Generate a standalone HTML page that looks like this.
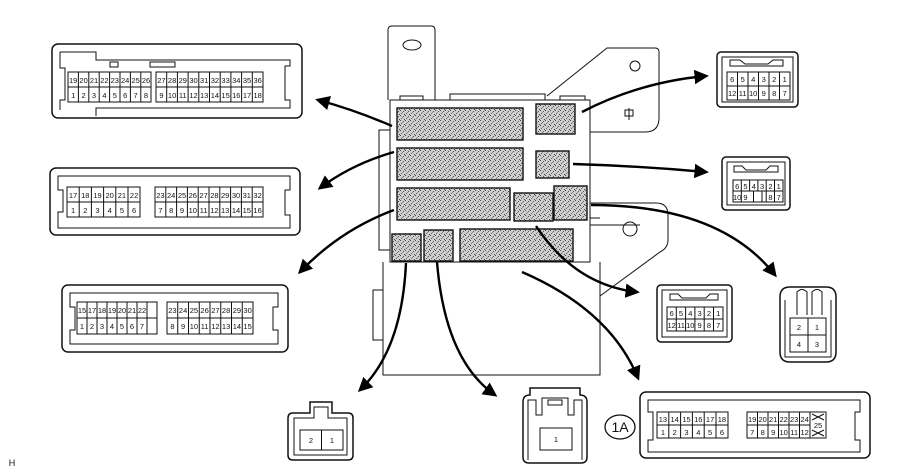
<!DOCTYPE html>
<html><head><meta charset="utf-8"><style>
html,body{margin:0;padding:0;background:#fff;width:909px;height:475px;overflow:hidden}
svg text{font-family:"Liberation Sans",sans-serif;font-size:7.5px;text-anchor:middle;fill:#111}
</style></head><body>
<svg width="909" height="475" viewBox="0 0 909 475" xmlns="http://www.w3.org/2000/svg">
<defs>
<marker id="ah" viewBox="0 0 10 10" refX="8" refY="5" markerWidth="6" markerHeight="6" orient="auto-start-reverse" markerUnits="strokeWidth"><path d="M0,0 L10,5 L0,10 z" fill="#000"/></marker>
<pattern id="dots" width="5" height="5" patternUnits="userSpaceOnUse">
<rect width="5" height="5" fill="#cfcfcf"/>
<rect x="0" y="0" width="1" height="1" fill="#444"/><rect x="3" y="1" width="1" height="1" fill="#555"/>
<rect x="1" y="3" width="1" height="1" fill="#666"/><rect x="4" y="4" width="1" height="1" fill="#444"/>
<rect x="2" y="2" width="1" height="1" fill="#888"/>
</pattern>
</defs>
<g fill="none" stroke="#111" stroke-width="1">
<path d="M388,100 V30 Q388,26 392,26 H431 Q435,26 435,30 V100"/>
<ellipse cx="412" cy="45" rx="9" ry="5"/>
<path d="M547,96 L607,48 H655 Q659,48 659,52 V118 Q659,132 645,132 H590"/>
<circle cx="635" cy="66" r="5"/>
<path d="M629,108 v12 M625,110 h8 v6 h-8z"/>
<path d="M590,203 H656 Q668,203 668,215 V240 Q668,248 660,252 L600,296"/>
<circle cx="630" cy="229" r="7"/>
<rect x="390" y="100" width="200" height="162"/>
<path d="M390,130 H379 V250 H390"/>
<path d="M383,262 V375 H600 V262"/>
<path d="M383,290 H373 V340 H383"/>
<path d="M400,100 V96 H423 V100 M450,100 V94 H545 V100 M560,100 V96 H585 V100"/>
<path d="M590,225 H640 M590,218 H600"/>
</g>
<g stroke="#111" stroke-width="1.4" fill="url(#dots)">
<rect x="397" y="108" width="126" height="32"/><rect x="536" y="104" width="39" height="30"/>
<rect x="397" y="148" width="126" height="32"/><rect x="536" y="151" width="33" height="27"/>
<rect x="397" y="188" width="113" height="32"/><rect x="514" y="193" width="39" height="28"/>
<rect x="554" y="186" width="33" height="34"/>
<rect x="392" y="234" width="29" height="27"/><rect x="424" y="230" width="29" height="31"/>
<rect x="460" y="229" width="113" height="32"/>
</g>
<g fill="none" stroke="#000" stroke-width="2.4" marker-end="url(#ah)">
<path d="M392,126 Q355,110 318,100"/>
<path d="M394,152 Q352,164 320,188"/>
<path d="M394,210 Q340,230 300,272"/>
<path d="M406,263 Q402,350 360,390"/>
<path d="M437,262 Q445,360 495,395"/>
<path d="M522,272 Q610,310 638,378"/>
<path d="M536,226 Q575,285 637,292"/>
<path d="M591,205 Q720,205 775,275"/>
<path d="M582,112 Q640,82 706,76"/>
<path d="M573,164 Q640,166 706,172"/>
</g>
<g fill="none" stroke="#111">
<rect x="52" y="44" width="250" height="74" rx="6" stroke-width="1.5"/>
<path d="M60,52 H96 V60 H290 V66 H285 V100 H290 V108 H96 V116 M60,52 V68 H65 V100 H60 V110"/>
<rect x="68" y="72" width="83" height="30"/><rect x="156" y="72" width="107" height="30"/>
<path d="M68,87 H151 M156,87 H263"/>
<path d="M78.4,72v30M88.8,72v30M99.2,72v30M109.6,72v30M120,72v30M130.4,72v30M140.8,72v30"/>
<path d="M166.7,72v30M177.4,72v30M188.1,72v30M198.8,72v30M209.5,72v30M220.2,72v30M230.9,72v30M241.6,72v30M252.3,72v30"/>
<rect x="110" y="62" width="8" height="5"/><rect x="150" y="62" width="25" height="5"/>
</g>
<g>
<text x="73.2" y="83">19</text><text x="83.6" y="83">20</text><text x="94" y="83">21</text><text x="104.4" y="83">22</text><text x="114.8" y="83">23</text><text x="125.2" y="83">24</text><text x="135.6" y="83">25</text><text x="146" y="83">26</text>
<text x="161.4" y="83">27</text><text x="172.1" y="83">28</text><text x="182.8" y="83">29</text><text x="193.5" y="83">30</text><text x="204.2" y="83">31</text><text x="214.9" y="83">32</text><text x="225.6" y="83">33</text><text x="236.3" y="83">34</text><text x="247" y="83">35</text><text x="257.7" y="83">36</text>
<text x="73.2" y="98">1</text><text x="83.6" y="98">2</text><text x="94" y="98">3</text><text x="104.4" y="98">4</text><text x="114.8" y="98">5</text><text x="125.2" y="98">6</text><text x="135.6" y="98">7</text><text x="146" y="98">8</text>
<text x="161.4" y="98">9</text><text x="172.1" y="98">10</text><text x="182.8" y="98">11</text><text x="193.5" y="98">12</text><text x="204.2" y="98">13</text><text x="214.9" y="98">14</text><text x="225.6" y="98">15</text><text x="236.3" y="98">16</text><text x="247" y="98">17</text><text x="257.7" y="98">18</text>
</g>
<g fill="none" stroke="#111">
<rect x="50" y="168" width="250" height="67" rx="6" stroke-width="1.5"/>
<path d="M58,176 H290 V190 H285 V215 H290 V228 H58 V212 H63 V190 H58 Z"/>
<rect x="67" y="187" width="73" height="30"/><rect x="155" y="187" width="108" height="30"/>
<path d="M67,202 H140 M155,202 H263"/>
<path d="M79.2,187v30M91.4,187v30M103.6,187v30M115.8,187v30M128,187v30"/>
<path d="M165.8,187v30M176.6,187v30M187.4,187v30M198.2,187v30M209,187v30M219.8,187v30M230.6,187v30M241.4,187v30M252.2,187v30"/>
</g>
<g>
<text x="73.1" y="198">17</text><text x="85.3" y="198">18</text><text x="97.5" y="198">19</text><text x="109.7" y="198">20</text><text x="121.9" y="198">21</text><text x="134.1" y="198">22</text>
<text x="160.4" y="198">23</text><text x="171.2" y="198">24</text><text x="182" y="198">25</text><text x="192.8" y="198">26</text><text x="203.6" y="198">27</text><text x="214.4" y="198">28</text><text x="225.2" y="198">29</text><text x="236" y="198">30</text><text x="246.8" y="198">31</text><text x="257.6" y="198">32</text>
<text x="73.1" y="213">1</text><text x="85.3" y="213">2</text><text x="97.5" y="213">3</text><text x="109.7" y="213">4</text><text x="121.9" y="213">5</text><text x="134.1" y="213">6</text>
<text x="160.4" y="213">7</text><text x="171.2" y="213">8</text><text x="182" y="213">9</text><text x="192.8" y="213">10</text><text x="203.6" y="213">11</text><text x="214.4" y="213">12</text><text x="225.2" y="213">13</text><text x="236" y="213">14</text><text x="246.8" y="213">15</text><text x="257.6" y="213">16</text>
</g>
<g fill="none" stroke="#111">
<rect x="62" y="285" width="226" height="67" rx="6" stroke-width="1.5"/>
<path d="M70,293 H278 V307 H273 V330 H278 V344 H70 V330 H75 V307 H70 Z"/>
<rect x="77" y="302" width="80" height="32"/><rect x="167" y="302" width="86" height="32"/>
<path d="M77,318 H157 M167,318 H253"/>
<path d="M87,302v32M97,302v32M107,302v32M117,302v32M127,302v32M137,302v32M147,302v32"/>
<path d="M177.75,302v32M188.5,302v32M199.25,302v32M210,302v32M220.75,302v32M231.5,302v32M242.25,302v32"/>
</g>
<g>
<text x="82" y="313">15</text><text x="92" y="313">17</text><text x="102" y="313">18</text><text x="112" y="313">19</text><text x="122" y="313">20</text><text x="132" y="313">21</text><text x="142" y="313">22</text>
<text x="172.4" y="313">23</text><text x="183.1" y="313">24</text><text x="193.9" y="313">25</text><text x="204.6" y="313">26</text><text x="215.4" y="313">27</text><text x="226.1" y="313">28</text><text x="236.9" y="313">29</text><text x="247.6" y="313">30</text>
<text x="82" y="329">1</text><text x="92" y="329">2</text><text x="102" y="329">3</text><text x="112" y="329">4</text><text x="122" y="329">5</text><text x="132" y="329">6</text><text x="142" y="329">7</text>
<text x="172.4" y="329">8</text><text x="183.1" y="329">9</text><text x="193.9" y="329">10</text><text x="204.6" y="329">11</text><text x="215.4" y="329">12</text><text x="226.1" y="329">13</text><text x="236.9" y="329">14</text><text x="247.6" y="329">15</text>
</g>
<ellipse cx="620" cy="427" rx="15" ry="12" fill="none" stroke="#111" stroke-width="1.3"/>
<text x="620" y="432" style="font-size:14px">1A</text>
<g fill="none" stroke="#111">
<rect x="640" y="392" width="230" height="66" rx="6" stroke-width="1.5"/>
<path d="M648,400 H860 V412 H855 V440 H860 V452 H648 V440 H653 V412 H648 Z"/>
<rect x="657" y="412" width="71" height="26"/><rect x="747" y="412" width="79" height="26"/>
<path d="M657,425 H728 M747,425 H810"/>
<path d="M668.8,412v26M680.6,412v26M692.4,412v26M704.2,412v26M716,412v26"/>
<path d="M757.5,412v26M768,412v26M778.5,412v26M789,412v26M799.5,412v26M810,412v26"/>
<path d="M812,414 l12,6 m0,-6 l-12,6 M812,430 l12,6 m0,-6 l-12,6"/>
</g>
<g>
<text x="662.9" y="422">13</text><text x="674.7" y="422">14</text><text x="686.5" y="422">15</text><text x="698.3" y="422">16</text><text x="710.1" y="422">17</text><text x="721.9" y="422">18</text>
<text x="752.2" y="422">19</text><text x="762.7" y="422">20</text><text x="773.2" y="422">21</text><text x="783.7" y="422">22</text><text x="794.2" y="422">23</text><text x="804.7" y="422">24</text>
<text x="818" y="428">25</text>
<text x="662.9" y="435">1</text><text x="674.7" y="435">2</text><text x="686.5" y="435">3</text><text x="698.3" y="435">4</text><text x="710.1" y="435">5</text><text x="721.9" y="435">6</text>
<text x="752.2" y="435">7</text><text x="762.7" y="435">8</text><text x="773.2" y="435">9</text><text x="783.7" y="435">10</text><text x="794.2" y="435">11</text><text x="804.7" y="435">12</text>
</g>
<g fill="none" stroke="#111">
<rect x="717" y="52" width="81" height="55" rx="4" stroke-width="1.5"/>
<rect x="722" y="57" width="71" height="45"/>
<path d="M730,66 V60 H740 L745,64 H768 L773,60 H783 V66 Z"/>
<rect x="727" y="72" width="63" height="28"/><path d="M727,86 H790"/>
<path d="M737.5,72v28M748,72v28M758.5,72v28M769,72v28M779.5,72v28"/>
</g>
<g>
<text x="732.2" y="82">6</text><text x="742.7" y="82">5</text><text x="753.2" y="82">4</text><text x="763.7" y="82">3</text><text x="774.2" y="82">2</text><text x="784.7" y="82">1</text>
<text x="732.2" y="96">12</text><text x="742.7" y="96">11</text><text x="753.2" y="96">10</text><text x="763.7" y="96">9</text><text x="774.2" y="96">8</text><text x="784.7" y="96">7</text>
</g>
<g fill="none" stroke="#111">
<rect x="722" y="157" width="68" height="53" rx="4" stroke-width="1.5"/>
<rect x="727" y="162" width="58" height="43"/>
<path d="M734,172 V166 H742 L746,170 H766 L770,166 H778 V172 Z"/>
<rect x="733" y="180" width="50" height="22"/><path d="M733,191 H783"/>
<path d="M741.3,180v22M749.6,180v11M757.9,180v11M766.2,180v22M774.5,180v22M753.5,191v11M762,191v11"/>
</g>
<g>
<text x="737.2" y="189">6</text><text x="745.5" y="189">5</text><text x="753.8" y="189">4</text><text x="762.1" y="189">3</text><text x="770.4" y="189">2</text><text x="778.7" y="189">1</text>
<text x="737.2" y="200">10</text><text x="745.5" y="200">9</text><text x="770.4" y="200">8</text><text x="778.7" y="200">7</text>
</g>
<g fill="none" stroke="#111">
<rect x="657" y="285" width="75" height="57" rx="4" stroke-width="1.5"/>
<rect x="662" y="290" width="65" height="47"/>
<path d="M670,300 V294 H678 L682,298 H706 L710,294 H718 V300 Z"/>
<rect x="667" y="307" width="56" height="24"/><path d="M667,319 H723"/>
<path d="M676.3,307v24M685.6,307v24M694.9,307v24M704.2,307v24M713.5,307v24"/>
</g>
<g>
<text x="671.7" y="316">6</text><text x="681" y="316">5</text><text x="690.3" y="316">4</text><text x="699.6" y="316">3</text><text x="708.9" y="316">2</text><text x="718.2" y="316">1</text>
<text x="671.7" y="328">12</text><text x="681" y="328">11</text><text x="690.3" y="328">10</text><text x="699.6" y="328">9</text><text x="708.9" y="328">8</text><text x="718.2" y="328">7</text>
</g>
<g fill="none" stroke="#111">
<path d="M790,287 H826 Q836,287 836,297 V352 Q836,362 826,362 H790 Q780,362 780,352 V297 Q780,287 790,287 Z" stroke-width="1.5"/>
<path d="M785,300 V357 H831 V300"/>
<path d="M797,315 V292 Q802,287 807,292 V315 M812,315 V292 Q817,287 822,292 V315"/>
<rect x="790" y="318" width="36" height="34"/><path d="M790,335 H826 M808,318 V352"/>
</g>
<g style="font-size:8px">
<text x="799" y="330">2</text><text x="817" y="330">1</text><text x="799" y="347">4</text><text x="817" y="347">3</text>
</g>
<g fill="none" stroke="#111">
<path d="M310,413 V402 H332 V413 H348 Q353,413 353,418 V455 Q353,460 348,460 H293 Q288,460 288,455 V418 Q288,413 293,413 Z" stroke-width="1.5"/>
<path d="M314,418 V407 H328 V418 H347 V455 H294 V418 Z"/>
<rect x="300" y="430" width="43" height="20"/><path d="M321.5,430 V450"/>
</g>
<text x="311" y="443">2</text><text x="332" y="443">1</text>
<g fill="none" stroke="#111">
<path d="M530,395 V388 H580 V395 Q587,395 587,402 V457 Q587,463 581,463 H529 Q523,463 523,457 V402 Q523,395 530,395 Z" stroke-width="1.5"/>
<path d="M528,460 V400 H536 V415 H542 V398 H568 V415 H574 V400 H582 V460"/>
<rect x="548" y="400" width="14" height="5"/>
<rect x="540" y="428" width="32" height="22"/>
</g>
<text x="556" y="442">1</text>
<text x="12" y="466" style="font-size:9px">H</text>
</svg>
</body></html>
